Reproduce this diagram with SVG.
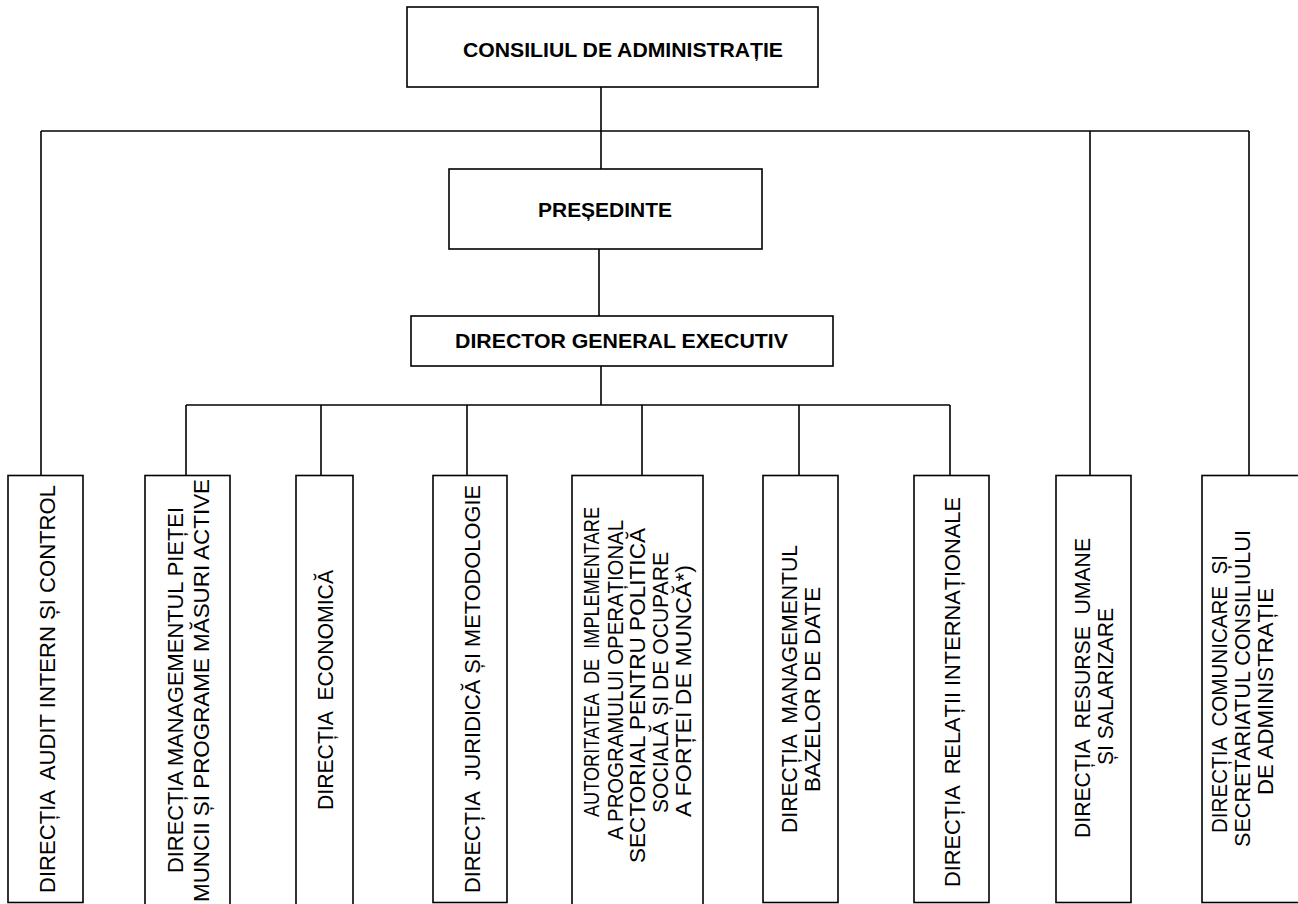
<svg xmlns="http://www.w3.org/2000/svg" width="1298" height="904" viewBox="0 0 1298 904">
<style>
.box{fill:#fff;stroke:#000;stroke-width:1.6}
.ln{stroke:#000;stroke-width:1.6;fill:none}
.hb{font-family:"Liberation Sans",Arial,sans-serif;font-weight:bold;font-size:21px;fill:#000}
.vt{font-family:"Liberation Sans",Arial,sans-serif;font-size:22px;fill:#000;white-space:pre}
</style>
<rect width="1298" height="904" fill="#fff"/>
<g id="connectors">
<line class="ln" x1="601" y1="87" x2="601" y2="169"/>
<line class="ln" x1="41" y1="131" x2="1249" y2="131"/>
<line class="ln" x1="41" y1="131" x2="41" y2="476"/>
<line class="ln" x1="1090" y1="131" x2="1090" y2="476"/>
<line class="ln" x1="1249" y1="131" x2="1249" y2="476"/>
<line class="ln" x1="599" y1="249" x2="599" y2="316"/>
<line class="ln" x1="601" y1="366" x2="601" y2="405"/>
<line class="ln" x1="186" y1="405" x2="950" y2="405"/>
<line class="ln" x1="186" y1="405" x2="186" y2="476"/>
<line class="ln" x1="321" y1="405" x2="321" y2="476"/>
<line class="ln" x1="467" y1="405" x2="467" y2="476"/>
<line class="ln" x1="642" y1="405" x2="642" y2="476"/>
<line class="ln" x1="799" y1="405" x2="799" y2="476"/>
<line class="ln" x1="950" y1="405" x2="950" y2="476"/>
</g>
<g id="consiliu">
<rect class="box" x="407" y="7" width="411" height="80"/>
<text class="hb" x="463" y="57" textLength="320" lengthAdjust="spacingAndGlyphs">CONSILIUL DE ADMINISTRAȚIE</text>
</g>
<g id="presedinte">
<rect class="box" x="449" y="169" width="313" height="80"/>
<text class="hb" x="538" y="217" textLength="134" lengthAdjust="spacingAndGlyphs">PREȘEDINTE</text>
</g>
<g id="director">
<rect class="box" x="411" y="316" width="422" height="50"/>
<text class="hb" x="455" y="348" textLength="333" lengthAdjust="spacingAndGlyphs">DIRECTOR GENERAL EXECUTIV</text>
</g>
<g id="audit">
<rect class="box" x="8" y="475.5" width="75" height="427"/>
<text class="vt" xml:space="preserve" transform="translate(55,893) rotate(-90)" textLength="408" lengthAdjust="spacingAndGlyphs">DIRECȚIA  AUDIT INTERN ȘI CONTROL</text>
</g>
<g id="piata">
<rect class="box" x="145" y="475.5" width="85" height="440"/>
<text class="vt" transform="translate(183,873) rotate(-90)" textLength="366" lengthAdjust="spacingAndGlyphs">DIRECȚIA MANAGEMENTUL PIEȚEI</text>
<text class="vt" transform="translate(209,902) rotate(-90)" textLength="423" lengthAdjust="spacingAndGlyphs">MUNCII ȘI PROGRAME MĂSURI ACTIVE</text>
</g>
<g id="economica">
<rect class="box" x="296" y="475.5" width="57" height="440"/>
<text class="vt" xml:space="preserve" transform="translate(333,810) rotate(-90)" textLength="240" lengthAdjust="spacingAndGlyphs">DIRECȚIA  ECONOMICĂ</text>
</g>
<g id="juridica">
<rect class="box" x="433" y="475.5" width="74" height="427"/>
<text class="vt" xml:space="preserve" transform="translate(480,893) rotate(-90)" textLength="408" lengthAdjust="spacingAndGlyphs">DIRECȚIA  JURIDICĂ ȘI METODOLOGIE</text>
</g>
<g id="autoritatea">
<rect class="box" x="572" y="475.5" width="131" height="440"/>
<text class="vt" xml:space="preserve" transform="translate(599,817) rotate(-90)" textLength="310" lengthAdjust="spacingAndGlyphs">AUTORITATEA  DE  IMPLEMENTARE</text>
<text class="vt" transform="translate(623,840) rotate(-90)" textLength="320" lengthAdjust="spacingAndGlyphs">A PROGRAMULUI OPERAȚIONAL</text>
<text class="vt" transform="translate(645,863) rotate(-90)" textLength="335" lengthAdjust="spacingAndGlyphs">SECTORIAL PENTRU POLITICĂ</text>
<text class="vt" transform="translate(668,813) rotate(-90)" textLength="261" lengthAdjust="spacingAndGlyphs">SOCIALĂ ȘI DE OCUPARE</text>
<text class="vt" transform="translate(691,817) rotate(-90)" textLength="252" lengthAdjust="spacingAndGlyphs">A FORȚEI DE MUNCĂ*)</text>
</g>
<g id="baze-date">
<rect class="box" x="763" y="475.5" width="75" height="427"/>
<text class="vt" xml:space="preserve" transform="translate(797,833) rotate(-90)" textLength="288" lengthAdjust="spacingAndGlyphs">DIRECȚIA  MANAGEMENTUL</text>
<text class="vt" transform="translate(820,792) rotate(-90)" textLength="205" lengthAdjust="spacingAndGlyphs">BAZELOR DE DATE</text>
</g>
<g id="relatii">
<rect class="box" x="914" y="475.5" width="75" height="427"/>
<text class="vt" xml:space="preserve" transform="translate(960,887) rotate(-90)" textLength="390" lengthAdjust="spacingAndGlyphs">DIRECȚIA  RELAȚII INTERNAȚIONALE</text>
</g>
<g id="resurse-umane">
<rect class="box" x="1056" y="475.5" width="75" height="427"/>
<text class="vt" xml:space="preserve" transform="translate(1090,838) rotate(-90)" textLength="300" lengthAdjust="spacingAndGlyphs">DIRECȚIA  RESURSE  UMANE</text>
<text class="vt" transform="translate(1113,765) rotate(-90)" textLength="157" lengthAdjust="spacingAndGlyphs">ȘI SALARIZARE</text>
</g>
<g id="comunicare">
<rect class="box" x="1202" y="475.5" width="110" height="427"/>
<text class="vt" xml:space="preserve" transform="translate(1227,833) rotate(-90)" textLength="278" lengthAdjust="spacingAndGlyphs">DIRECȚIA  COMUNICARE  ȘI</text>
<text class="vt" transform="translate(1250,847) rotate(-90)" textLength="317" lengthAdjust="spacingAndGlyphs">SECRETARIATUL CONSILIULUI</text>
<text class="vt" transform="translate(1273,795) rotate(-90)" textLength="207" lengthAdjust="spacingAndGlyphs">DE ADMINISTRAȚIE</text>
</g>
</svg>
